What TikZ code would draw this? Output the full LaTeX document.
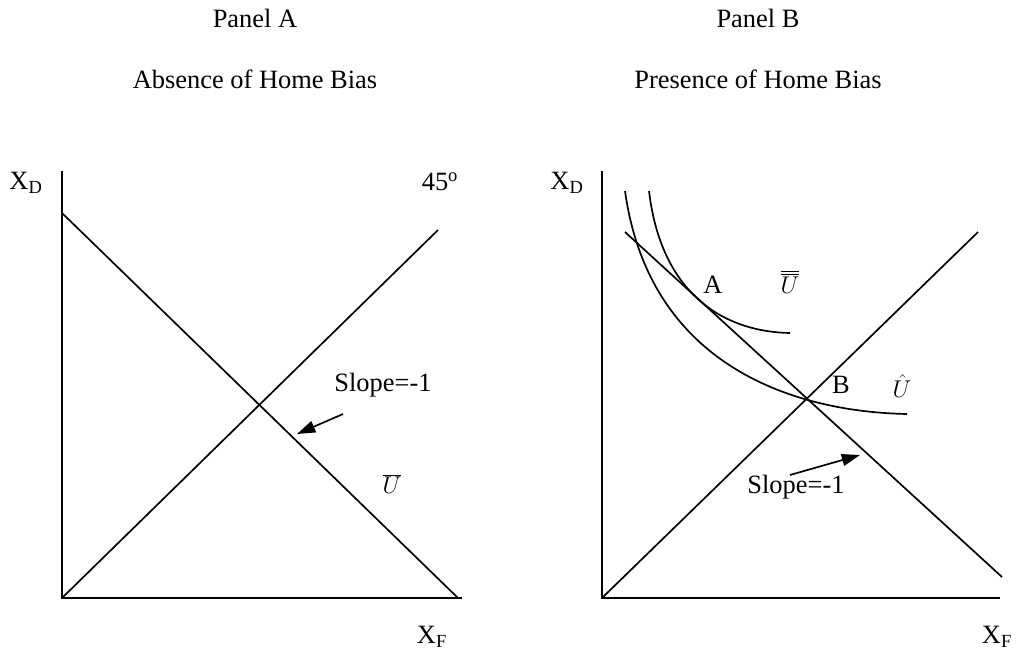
\documentclass[tikz,border=0pt]{standalone}
\usepackage{fontspec}
\setmainfont{Liberation Serif}
\usetikzlibrary{arrows.meta}

\begin{document}
\begin{tikzpicture}[x=0.025cm,y=-0.025cm,>={Triangle[length=13pt,width=8.5pt]},font=\fontsize{18.8}{22}\selectfont,line width=1.2pt]
\tikzstyle{lbl}=[inner sep=0pt]
\useasboundingbox (0,0) rectangle (1016,657);
\foreach \c/\t/\s in {255/A/Absence,758/B/Presence} {\node[anchor=base] (panel\t) at (\c,28) {Panel \t}; \node[anchor=base] (bias\t) at (\c,88) {\s\ of Home Bias};}
% panel A
\coordinate (oA) at (62,598);
\draw (62,171) -- (oA) -- (462,598);
\draw (oA) -- (438,230);
\draw (62,213) -- (458,598);
\node[lbl] (xdA) at (26,183) {X\textsubscript{D}};
\node[lbl] (xfA) at (432,637) {X\textsubscript{F}};
\node[lbl] (degA) at (440,182) {45\textsuperscript{o}};
\node[lbl] (slA) at (383,385) {Slope=-1};
\node[lbl] (ubA) at (392,484) {$\overline{U}$};
\coordinate (tailA) at (343,414); \coordinate (tipA) at (297,434);
\draw[->] (tailA) -- (tipA);
% panel B
\coordinate (oB) at (602,598);
\draw (602,171) -- (oB) -- (1000,598);
\draw (oB) -- (978,232);
\draw (625,232) -- (1002,577);
\draw (625,191) .. controls (650,370) and (800,412) .. (907,414);
\draw (649,191) .. controls (662,300) and (730,332) .. (790,333);
\node[lbl] (xdB) at (567,183) {X\textsubscript{D}};
\node[lbl] (xfB) at (997,637) {X\textsubscript{F}};
\node[lbl] (ptA) at (713,285) {A};
\node[lbl] (ubbB) at (790,282) {$\overline{\overline{U}}$};
\node[lbl] (ptB) at (841,385) {B};
\node[lbl] (uhB) at (902,386) {$\hat{U}$};
\node[lbl] (slB) at (796,487) {Slope=-1};
\coordinate (tailB) at (790,475); \coordinate (tipB) at (860,455);
\draw[->] (tailB) -- (tipB);
\end{tikzpicture}
\end{document}
